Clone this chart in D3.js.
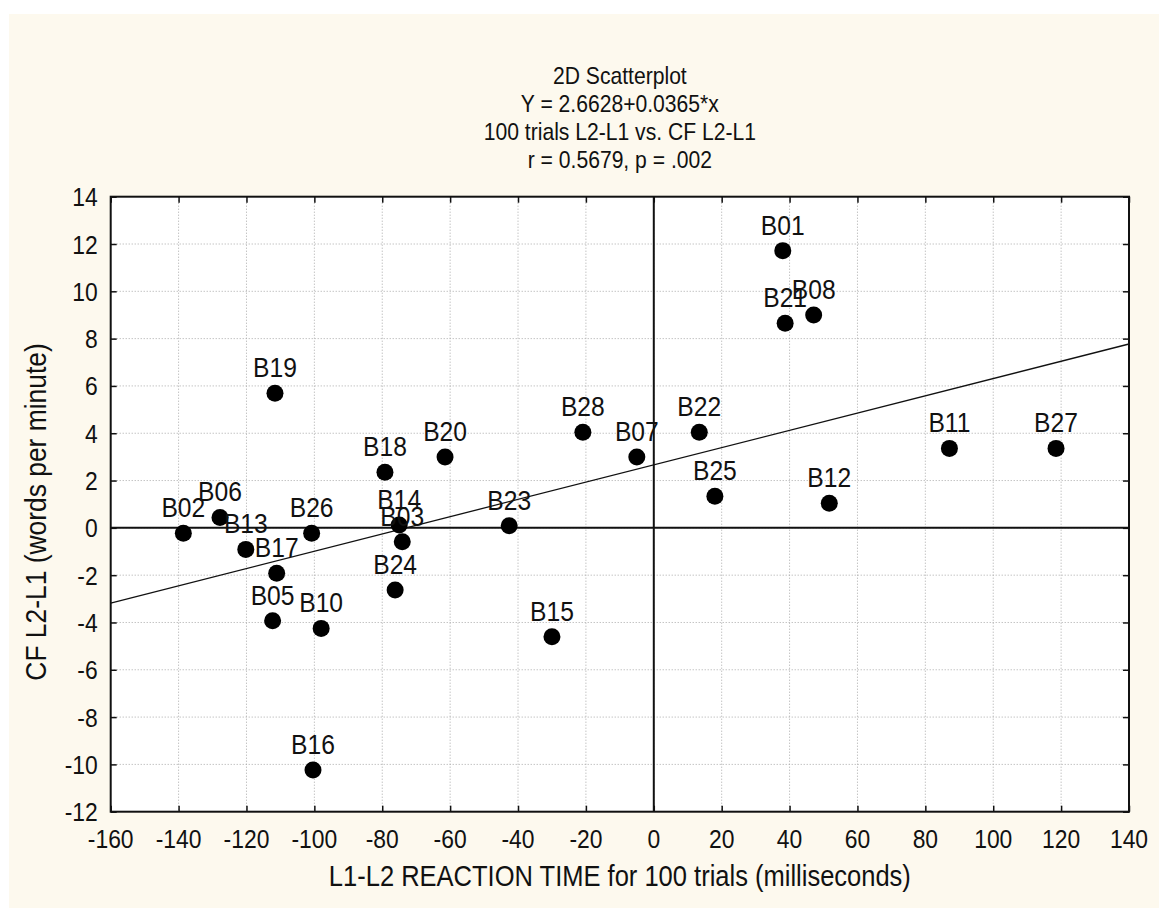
<!DOCTYPE html>
<html>
<head>
<meta charset="utf-8">
<script src="https://cdn.jsdelivr.net/npm/d3@7"></script>
<style>
  html, body { margin: 0; padding: 0; background: #ffffff; }
  svg { display: block; }
  text { font-family: "Liberation Sans", Arial, sans-serif; fill: #111; }
</style>
</head>
<body>
<svg id="chart" width="1159" height="908"></svg>
<script>
// Subjects and their difference scores
const labels = ["B01","B02","B03","B05","B06","B07","B08","B10","B11","B12","B13","B14","B15",
                "B16","B17","B18","B19","B20","B21","B22","B23","B24","B25","B26","B27","B28"];
const rtDiff = [38.0,-138.6,-74.1,-112.3,-127.8,-5.0,47.1,-98.0,87.1,51.7,-120.2,-75.0,-30.0,
                -100.4,-111.1,-79.2,-111.6,-61.5,38.7,13.4,-42.6,-76.2,18.0,-100.8,118.5,-20.9];
const cfDiff = [11.72,-0.23,-0.59,-3.93,0.44,3.0,9.0,-4.25,3.36,1.04,-0.91,0.12,-4.6,
                -10.24,-1.92,2.35,5.69,3.0,8.65,4.04,0.09,-2.63,1.34,-0.23,3.36,4.04];

// Fitted line Y = a + b*x
const fitIntercept = 2.6628;
const fitSlope = 0.0365;

const xTicks = [-160,-140,-120,-100,-80,-60,-40,-20,0,20,40,60,80,100,120,140];
const yTicks = [14,12,10,8,6,4,2,0,-2,-4,-6,-8,-10,-12];

const titleLines = ["2D Scatterplot", "Y = 2.6628+0.0365*x", "100 trials L2-L1 vs. CF L2-L1", "r = 0.5679, p = .002"];
const xTitle = "L1-L2 REACTION TIME for 100 trials (milliseconds)";
const yTitle = "CF L2-L1 (words per minute)";

const W = 1159, H = 908;
const plot = { left: 110.7, right: 1129, top: 196.7, bottom: 811.7 };
const SX = 0.88; // horizontal squeeze of the narrow typeface

const svg = d3.select("#chart");

// panel backgrounds
svg.append("rect").attr("x", 0).attr("y", 0).attr("width", W).attr("height", H).attr("fill", "#ffffff");
svg.append("rect").attr("x", 9).attr("y", 14).attr("width", W - 9).attr("height", H - 14).attr("fill", "#fdf9ee");
svg.append("rect")
  .attr("x", plot.left).attr("y", plot.top)
  .attr("width", plot.right - plot.left).attr("height", plot.bottom - plot.top)
  .attr("fill", "#ffffff");

const x = d3.scaleLinear().domain([-160, 140]).range([plot.left, plot.right]);
const y = d3.scaleLinear().domain([-12, 14]).range([plot.bottom, plot.top]);

// narrow text helper
function label(parent, str, px, py, size, anchor, rotate) {
  const g = parent.append("g")
    .attr("transform", `translate(${px},${py})` + (rotate ? ` rotate(${rotate})` : "") + ` scale(${SX},1)`);
  g.append("text").attr("text-anchor", anchor || "middle").attr("font-size", size).text(str);
  return g;
}

// dotted grid
const grid = svg.append("g").attr("stroke", "#a9a9a9").attr("stroke-width", 1).attr("stroke-dasharray", "1,2");
grid.selectAll("line.gx").data(xTicks.slice(1, -1)).join("line")
  .attr("x1", d => x(d)).attr("x2", d => x(d)).attr("y1", plot.top).attr("y2", plot.bottom);
grid.selectAll("line.gy").data(yTicks.slice(1, -1)).join("line")
  .attr("y1", d => y(d)).attr("y2", d => y(d)).attr("x1", plot.left).attr("x2", plot.right);

// axes with inward ticks on all four sides
function styleAxis(g) {
  g.select(".domain").remove();
  g.selectAll(".tick line").attr("stroke", "#111").attr("stroke-width", 1.5);
}
svg.append("g").attr("transform", `translate(0,${plot.bottom})`)
  .call(d3.axisBottom(x).tickValues(xTicks).tickSize(-6).tickFormat(""))
  .call(styleAxis);
svg.append("g").attr("transform", `translate(0,${plot.top})`)
  .call(d3.axisTop(x).tickValues(xTicks).tickSize(-6).tickFormat(""))
  .call(styleAxis);
svg.append("g").attr("transform", `translate(${plot.left},0)`)
  .call(d3.axisLeft(y).tickValues(yTicks).tickSize(-6).tickFormat(""))
  .call(styleAxis);
svg.append("g").attr("transform", `translate(${plot.right},0)`)
  .call(d3.axisRight(y).tickValues(yTicks).tickSize(-6).tickFormat(""))
  .call(styleAxis);

// tick labels (plain hyphen for negatives)
const tickFmt = v => String(v);
const xl = svg.append("g");
xTicks.forEach(t => label(xl, tickFmt(t), x(t), plot.bottom + 36, 26, "middle"));
const yl = svg.append("g");
yTicks.forEach(t => label(yl, tickFmt(t), plot.left - 13, y(t) + 9.5, 26, "end"));

// zero reference lines
svg.append("line").attr("x1", plot.left).attr("x2", plot.right).attr("y1", y(0)).attr("y2", y(0))
  .attr("stroke", "#111").attr("stroke-width", 2);
svg.append("line").attr("x1", x(0)).attr("x2", x(0)).attr("y1", plot.top).attr("y2", plot.bottom)
  .attr("stroke", "#111").attr("stroke-width", 2);

// regression line
const [d0, d1] = x.domain();
svg.append("line")
  .attr("x1", x(d0)).attr("y1", y(fitIntercept + fitSlope * d0))
  .attr("x2", x(d1)).attr("y2", y(fitIntercept + fitSlope * d1))
  .attr("stroke", "#111").attr("stroke-width", 1.3);

// frame
svg.append("rect")
  .attr("x", plot.left).attr("y", plot.top)
  .attr("width", plot.right - plot.left).attr("height", plot.bottom - plot.top)
  .attr("fill", "none").attr("stroke", "#111").attr("stroke-width", 2);

// points and their labels
const pts = labels.map((l, i) => ({ l, rx: rtDiff[i], cy: cfDiff[i] }));
svg.append("g").selectAll("circle").data(pts).join("circle")
  .attr("cx", d => x(d.rx)).attr("cy", d => y(d.cy)).attr("r", 8.5).attr("fill", "#000");
const pl = svg.append("g");
pts.forEach(d => label(pl, d.l, x(d.rx), y(d.cy) - 16, 28, "middle"));

// titles
const tl = svg.append("g");
titleLines.forEach((s, i) => label(tl, s, (plot.left + plot.right) / 2, 84 + i * 28, 24, "middle"));
label(svg, xTitle, (plot.left + plot.right) / 2, 886, 29, "middle");
label(svg, yTitle, 46, 512, 30, "middle", -90);
</script>
</body>
</html>
